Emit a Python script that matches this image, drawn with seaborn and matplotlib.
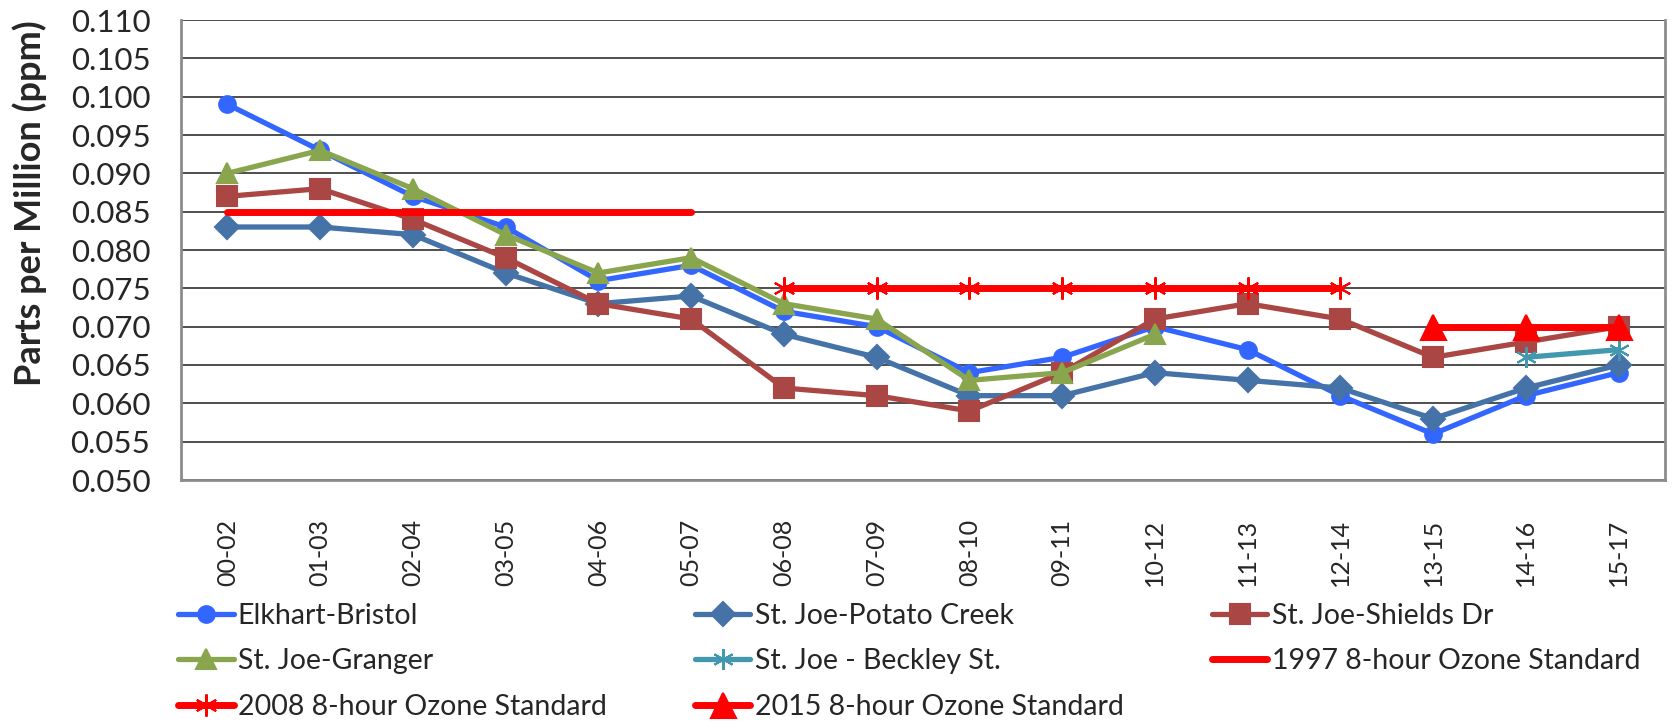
import numpy as np
import pandas as pd
import matplotlib
matplotlib.use("Agg")
import matplotlib.pyplot as plt
import seaborn as sns

# ---- data ----
periods = ["00-02", "01-03", "02-04", "03-05", "04-06", "05-07", "06-08", "07-09",
           "08-10", "09-11", "10-12", "11-13", "12-14", "13-15", "14-16", "15-17"]

elkhart_bristol = [0.099, 0.093, 0.087, 0.083, 0.076, 0.078, 0.072, 0.070,
                   0.064, 0.066, 0.070, 0.067, 0.061, 0.056, 0.061, 0.064]
potato_creek = [0.083, 0.083, 0.082, 0.077, 0.073, 0.074, 0.069, 0.066,
                0.061, 0.061, 0.064, 0.063, 0.062, 0.058, 0.062, 0.065]
shields_dr = [0.087, 0.088, 0.084, 0.079, 0.073, 0.071, 0.062, 0.061,
              0.059, 0.064, 0.071, 0.073, 0.071, 0.066, 0.068, 0.070]
granger = [0.090, 0.093, 0.088, 0.082, 0.077, 0.079, 0.073, 0.071,
           0.063, 0.064, 0.069, np.nan, np.nan, np.nan, np.nan, np.nan]
beckley = [np.nan] * 14 + [0.066, 0.067]
std_1997 = [0.085] * 6 + [np.nan] * 10
std_2008 = [np.nan] * 6 + [0.075] * 7 + [np.nan] * 3
std_2015 = [np.nan] * 13 + [0.070] * 3

# ---- styling ----
sns.set_style("white")
plt.rcParams["font.family"] = ["Lato", "DejaVu Sans"]

BLUE = "#3366FF"
STEEL = "#4572A7"
BRICK = "#AA4643"
OLIVE = "#89A54E"
TEAL = "#4198AF"
RED = "#FF0000"

series = [
    ("Elkhart-Bristol", elkhart_bristol, BLUE, "o", 12, 3.8),
    ("St. Joe-Potato Creek", potato_creek, STEEL, "D", 12, 3.8),
    ("St. Joe-Shields Dr", shields_dr, BRICK, "s", 14, 3.8),
    ("St. Joe-Granger", granger, OLIVE, "^", 15, 3.8),
    ("St. Joe - Beckley St.", beckley, TEAL, (6, 2, 0), 15, 3.8),
    ("1997 8-hour Ozone Standard", std_1997, RED, None, 0, 5),
    ("2008 8-hour Ozone Standard", std_2008, RED, (6, 2, 0), 16, 5),
    ("2015 8-hour Ozone Standard", std_2015, RED, "^", 18, 5),
]

fig = plt.figure(figsize=(16.79, 7.24), dpi=100)
ax = fig.add_axes([181 / 1679, 1 - 480 / 724, (1665 - 181) / 1679, 460 / 724])

x = np.arange(len(periods))
for name, vals, color, marker, ms, lw in series:
    df = pd.DataFrame({"x": x, "y": vals}).dropna()
    kw = dict(color=color, linewidth=lw, label=name, solid_capstyle="round")
    if marker is not None:
        kw.update(marker=marker, markersize=ms, markeredgecolor=color,
                  markerfacecolor=color, markeredgewidth=1.5)
    sns.lineplot(data=df, x="x", y="y", ax=ax, **kw)

ax.set_xlim(-0.5, len(periods) - 0.5)
ax.set_ylim(0.050, 0.110)
ax.set_yticks(np.arange(0.050, 0.1101, 0.005))
ax.yaxis.set_major_formatter(matplotlib.ticker.FormatStrFormatter("%.3f"))
ax.set_xticks(x)
ax.set_xticklabels(periods, rotation=90, fontsize=18)
ax.tick_params(axis="y", labelsize=22.5, length=0, pad=22)
ax.tick_params(axis="x", direction="out", length=8, width=1.2, color="#404040", pad=20)
ax.grid(axis="y", color="#303030", linewidth=1.2)
ax.set_axisbelow(True)
for side in ["left", "right", "bottom", "top"]:
    ax.spines[side].set_color("#8c8c8c")
    ax.spines[side].set_linewidth(2)
ax.spines["top"].set_visible(False)

ax.set_xlabel("")
ax.set_ylabel("")
fig.text(30 / 1679, 1 - 203 / 724, "Parts per Million (ppm)", rotation=90,
         fontsize=26, fontweight="bold", ha="center", va="center")

# legend: three columns filled row by row
handles, labels = ax.get_legend_handles_labels()
if ax.get_legend() is not None:
    ax.get_legend().remove()
order = [0, 3, 6, 1, 4, 7, 2, 5]
fig.legend([handles[i] for i in order], [labels[i] for i in order],
           ncol=3, loc="upper left", bbox_to_anchor=(178 / 1679, 1 - 603 / 724),
           frameon=False, fontsize=20.5, handlelength=1.95, handletextpad=0.15,
           columnspacing=3.1, labelspacing=0.68, borderpad=0, borderaxespad=0)

fig.savefig("out.png", dpi=100)
